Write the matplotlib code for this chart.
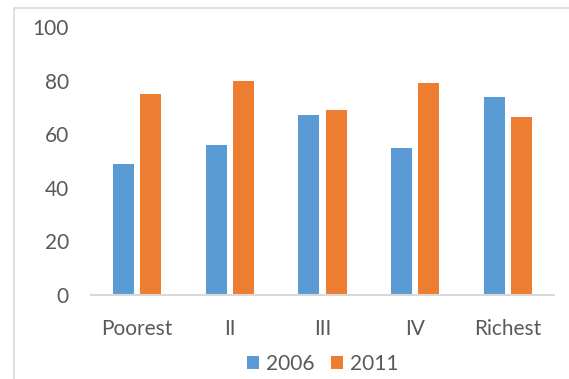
import matplotlib.pyplot as plt
import numpy as np
from matplotlib.patches import Rectangle

plt.rcParams['font.family'] = ['Lato', 'DejaVu Sans']

categories = ["Poorest", "II", "III", "IV", "Richest"]
values_2006 = [49, 56, 67, 55, 74]
values_2011 = [75, 80, 69, 79, 66.5]
series_labels = ["2006", "2011"]

BLUE = '#5B9BD5'
ORANGE = '#ED7D31'
TEXT = '#595959'

fig = plt.figure(figsize=(5.69, 3.79), dpi=100)
ax = fig.add_axes([91 / 569, 1 - 295 / 379, (554 - 91) / 569, 268 / 379])

x = np.arange(len(categories))
w = 0.227
off = 0.146
ax.bar(x - off, values_2006, w, color=BLUE, label=series_labels[0], zorder=2)
ax.bar(x + off, values_2011, w, color=ORANGE, label=series_labels[1], zorder=2)

ax.set_xlim(-0.5, len(categories) - 0.5)
ax.set_ylim(0, 100)
ax.set_yticks(range(0, 101, 20))
ax.set_xticks(x)
ax.set_xticklabels(categories)
ax.tick_params(axis='both', length=0, labelsize=15, colors=TEXT)
ax.tick_params(axis='y', pad=16)
ax.tick_params(axis='x', pad=17)

for s in ['top', 'right', 'left']:
    ax.spines[s].set_visible(False)
ax.spines['bottom'].set_color('#D9D9D9')
ax.spines['bottom'].set_linewidth(1.5)
ax.spines['bottom'].set_zorder(3)

leg = ax.legend(loc='center', bbox_to_anchor=(0.5, (295 - 364) / 268), ncol=2,
                frameon=False, fontsize=15, handlelength=0.6, handleheight=0.6,
                handletextpad=0.3, columnspacing=0.8)
for t in leg.get_texts():
    t.set_color(TEXT)

# light outer frame of the chart area
fig.patches.append(Rectangle((14 / 569, -0.1), 1.1, 1 - 8 / 379 + 0.1,
                             transform=fig.transFigure, fill=False,
                             edgecolor='#D9D9D9', linewidth=1.2))

plt.savefig('out.png', dpi=100)
